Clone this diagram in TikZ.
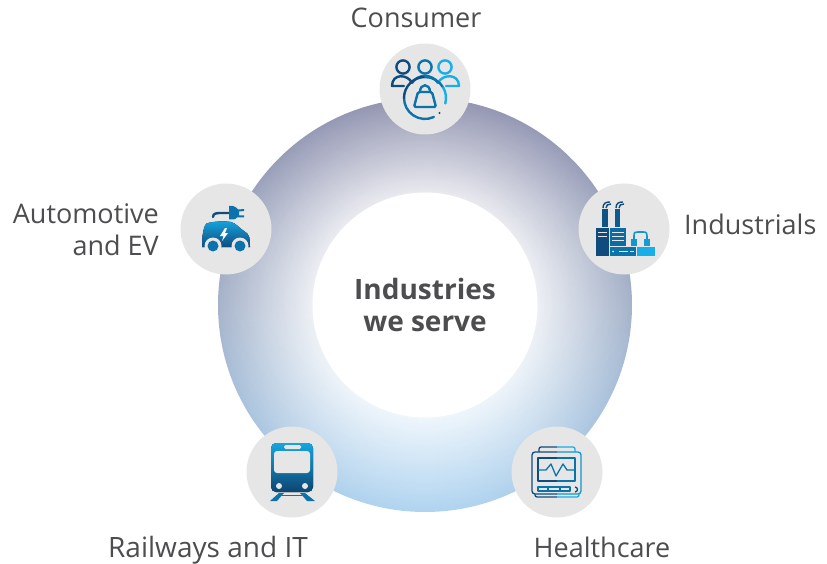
\documentclass[tikz,border=0pt]{standalone}
\usepackage{fontspec}
\setmainfont{Open Sans}
\definecolor{labelc}{HTML}{4D4D4F}
\definecolor{ringtop}{HTML}{9496B2}
\definecolor{ringmid}{HTML}{A6B3CA}
\definecolor{ringbot}{HTML}{B0D4F0}
\definecolor{badge}{HTML}{E6E6E6}
\definecolor{navy}{HTML}{0F4C7D}
\definecolor{midblue}{HTML}{0B73AB}
\definecolor{skyblue}{HTML}{18AEE8}
\begin{document}
\begin{tikzpicture}[x=1pt,y=-1pt]
    \tikzset{badgec/.style={circle,fill=badge,minimum size=91pt,inner sep=0pt},
             lab/.style={text=labelc,font=\fontsize{27}{32}\selectfont,inner sep=0pt},
             thin line/.style={line width=2.4pt,line cap=round,line join=round},
             pale/.style={fill=badge,draw=none}}
    \useasboundingbox (0,0) rectangle (827,564);
    \node[circle,minimum size=414pt,inner sep=0pt,top color=ringtop,bottom color=ringbot,middle color=ringmid] (ring) at (425,305) {};
    \foreach \r in {205,203,...,112} {
        \pgfmathtruncatemacro{\pct}{20+80*(\r-112)/95}
        \shade[top color=ringtop!\pct!white,bottom color=ringbot!\pct!white,middle color=ringmid!\pct!white] (ring.center) circle (\r);
    }
    \node[circle,fill=white,minimum size=225pt,inner sep=0pt,align=center,text=labelc,font=\fontsize{28}{32}\selectfont\bfseries] (hole) at (425,305) {Industries\\we serve};
    \node[badgec] (cons) at (425,89) {};
    \node[badgec] (indu) at (624,229) {};
    \node[badgec] (auto) at (226,229) {};
    \node[badgec] (rail) at (292,472) {};
    \node[badgec] (heal) at (557,472) {};
    \node[lab,anchor=base] (consl) at (416,28) {Consumer};
    \node[lab,anchor=base west] (indul) at (684,234) {Industrials};
    \node[lab,anchor=east,align=right] (autol) at (159,230) {Automotive\\and EV};
    \node[lab,anchor=base,font=\fontsize{28}{32}\selectfont] (raill) at (208,557) {Railways and IT};
    \node[lab,anchor=base] (heall) at (602,557) {Healthcare};
    % consumer
    \begin{scope}[shift={(cons.center)},thin line]
        \draw[navy] (-22,-22) circle (6.6);
        \draw[midblue] (0,-22) circle (6.6);
        \draw[skyblue] (20,-22) circle (6.6);
        \draw[navy] (-13,-6) .. controls (-17,-15) and (-33,-16) .. (-33,-3) -- (-21,-3);
        \draw[midblue] (-13,-6) .. controls (-10,-11) and (-5,-13) .. (0,-13) .. controls (5,-13) and (10,-11) .. (13,-6);
        \draw[skyblue] (13,-6) .. controls (17,-15) and (34,-16) .. (34,-3) -- (21,-3);
        \draw[midblue] (8.9,28) arc (65:180:21);
        \draw[navy] (-21,9) arc (180:270:21);
        \draw[midblue] (0,-12) arc (270:330:21);
        \draw[skyblue] (18.2,-1.5) arc (330:375:21);
        \fill[navy] (14.5,24) circle (1.2);
        \draw[midblue,rounded corners=1.5pt] (-7,3) -- (7,3) -- (11,18) -- (-11,18) -- cycle;
        \draw[midblue] (-5,3) .. controls (-5,-6) and (5,-6) .. (5,3);
    \end{scope}
    % industrials
    \begin{scope}[shift={(indu.center)}]
        \fill[navy] (-28,-1) rectangle (-15,27);
        \fill[navy!80!midblue] (-22,-20) rectangle (-16,-2);
        \fill[navy!60!midblue] (-9,-20) rectangle (-4,-2);
        \fill[midblue!80!navy] (-14,-1) rectangle (2,17);
        \fill[midblue] (-14,18) rectangle (12,27);
        \fill[skyblue] (13,18) rectangle (31,27);
        \fill[midblue!40!skyblue] (7,10) rectangle (13,17);
        \fill[midblue!30!skyblue] (20,10) rectangle (26,17);
        \draw[midblue!40!skyblue,line width=1.6pt] (10,10) -- (10,7) .. controls (10,3) and (11,3) .. (14,3) -- (19,3) .. controls (23,3) and (23,4) .. (23,10);
        \draw[navy,line width=1.4pt] (-21,-21) .. controls (-21,-26) and (-18,-27) .. (-14,-27);
        \draw[navy,line width=1.4pt] (-18,-21) .. controls (-18,-24) and (-16,-25) .. (-13,-25);
        \draw[navy,line width=1.4pt] (-8,-21) .. controls (-8,-26) and (-5,-27) .. (-1,-27);
        \draw[navy,line width=1.4pt] (-5,-21) .. controls (-5,-24) and (-3,-25) .. (0,-25);
        \foreach \yy in {3,7} \draw[badge,line width=1pt] (-26,\yy) -- (-17,\yy);
        \foreach \yy in {3,7,11} \draw[badge,line width=1pt] (-12,\yy) -- (0,\yy);
        \draw[badge,line width=1pt] (-5,22.5) -- (4,22.5);
        \draw[badge,line width=1pt] (6,22.5) -- (10,22.5);
        \fill[badge] (-11,22.5) circle (1);
    \end{scope}
    % automotive
    \begin{scope}[shift={(auto.center)}]
        \draw[navy,line width=2.4pt,line cap=round] (-13,-12) .. controls (-13,-16) and (-9,-16) .. (-4,-16) -- (3,-16);
        \fill[midblue] (3,-23) -- (7,-23) .. controls (10,-23) and (11,-20) .. (12,-19.5) -- (18,-20) -- (18,-18) -- (13,-17.5) -- (13,-13.5) -- (18,-13.5) -- (18,-11.5) -- (11,-11.5) .. controls (10,-10) and (9,-9.5) .. (7,-9.5) -- (3,-9.5) -- cycle;
        \fill[top color=skyblue!80!midblue,bottom color=navy] (-24,18) .. controls (-24,5) and (-22,-6) .. (-18,-6) .. controls (-10,-8) and (0,-8) .. (5,-7) .. controls (10,-6) and (13,-1) .. (18,2) .. controls (24,5) and (24,10) .. (24,18) -- cycle;
        \fill[badge] (-13,17) circle (8.5) (14,17) circle (8.5);
        \fill[midblue] (-13,17) circle (5.5) (14,17) circle (5.5);
        \fill[white] (-1,-1) -- (-6,7) -- (-2.5,7) -- (-4,12) -- (2,4) -- (-1,4) -- (1,-1) -- cycle;
    \end{scope}
    % railways
    \begin{scope}[shift={(rail.center)}]
        \fill[rounded corners=5pt,top color=skyblue!85!midblue,bottom color=navy!90!black] (-21,-29) rectangle (21,20);
        \fill[pale,rounded corners=3pt] (-18,-21) rectangle (18,1);
        \fill[pale,rounded corners=1.5pt] (-8,-27) rectangle (9,-23);
        \fill[badge] (-13,14) circle (3) (13,14) circle (3);
        \fill[midblue] (-13,21) -- (-8,21) -- (-15,29) -- (-22,29) -- cycle (13,21) -- (8,21) -- (15,29) -- (23,29) -- cycle;
        \fill[midblue] (-10,22.5) rectangle (10,24);
    \end{scope}
    % healthcare
    \begin{scope}[shift={(heal.center)},line width=1.3pt,line join=round]
        \draw[navy,rounded corners=3pt] (0,-20) -- (-25,-20) -- (-25,22) -- (0,22);
        \draw[skyblue!60!midblue,rounded corners=3pt] (0,-20) -- (24,-20) -- (24,22) -- (0,22);
        \draw[navy,rounded corners=2pt] (-18,-20) -- (-18,-25) -- (0,-25);
        \draw[skyblue,rounded corners=2pt] (0,-25) -- (18,-25) -- (18,-20);
        \draw[navy] (0,-14) -- (-19,-14) -- (-19,9) -- (0,9);
        \draw[midblue] (0,-14) -- (18,-14) -- (18,9) -- (0,9);
        \draw[midblue] (-19,-2) -- (-11,-2) -- (-6,-8) -- (-1,4) -- (6,-8) -- (10,-2) -- (18,-2);
        \draw[midblue] (-19,15) rectangle (13,19);
        \draw[midblue] (-9,15) -- (-9,19) (3,15) -- (3,19);
        \draw[navy] (18,15) arc (270:450:2.5);
        \draw[navy,rounded corners=2pt] (-22,22) -- (-22,25) -- (0,25);
        \draw[skyblue,rounded corners=2pt] (0,25) -- (22,25) -- (22,22);
    \end{scope}
\end{tikzpicture}
\end{document}
